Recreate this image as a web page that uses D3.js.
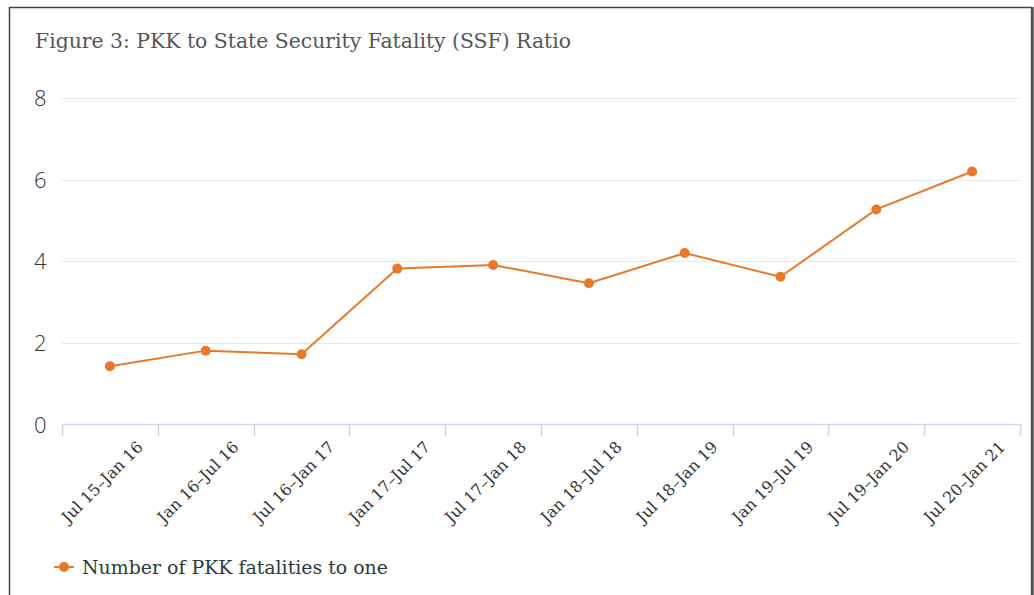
<!DOCTYPE html>
<html>
<head>
<meta charset="utf-8">
<script src="https://cdn.jsdelivr.net/npm/d3@7"></script>
<style>
  html, body { margin: 0; padding: 0; background: #fff; }
  svg { display: block; }
</style>
</head>
<body>
<div id="chart"></div>
<script>
// data
var periods = ["Jul 15\u2013Jan 16", "Jan 16\u2013Jul 16", "Jul 16\u2013Jan 17", "Jan 17\u2013Jul 17",
    "Jul 17\u2013Jan 18", "Jan 18\u2013Jul 18", "Jul 18\u2013Jan 19", "Jan 19\u2013Jul 19",
    "Jul 19\u2013Jan 20", "Jul 20\u2013Jan 21"];
var ratio = [1.43, 1.81, 1.72, 3.82, 3.91, 3.46, 4.20, 3.62, 5.27, 6.20];
var yTicks = [0, 2, 4, 6, 8];
var seriesName = "Number of PKK fatalities to one";
var titleText = "Figure 3: PKK to State Security Fatality (SSF) Ratio";

var width = 1034, height = 595;
var orange = "#e8792a";
var serif = "'DejaVu Serif', serif";

var svg = d3.select("#chart")
    .append("svg")
    .attr("width", width)
    .attr("height", height);

// frame around the figure
svg.append("rect")
    .attr("x", 9.5).attr("y", 7.5)
    .attr("width", 1022).attr("height", 700)
    .attr("fill", "none")
    .attr("stroke", "#444")
    .attr("stroke-width", 1.5);
svg.append("line")
    .attr("x1", 1032.5).attr("x2", 1032.5)
    .attr("y1", 7).attr("y2", height)
    .attr("stroke", "#555")
    .attr("stroke-width", 2.5);

svg.append("text")
    .attr("x", 35).attr("y", 48)
    .attr("fill", "#555")
    .style("font-family", serif)
    .style("font-size", "21px")
    .style("font-weight", 300)
    .attr("textLength", 536)
    .attr("lengthAdjust", "spacingAndGlyphs")
    .text(titleText);

var x = d3.scaleBand()
    .domain(periods)
    .range([62, 1020]);

var y = d3.scaleLinear()
    .domain([0, 8])
    .range([424.5, 98]);

// horizontal grid
svg.append("g")
    .selectAll("line")
    .data(yTicks.filter(d => d > 0))
    .join("line")
    .attr("x1", 62).attr("x2", 1020)
    .attr("y1", d => Math.round(y(d)) + 0.5)
    .attr("y2", d => Math.round(y(d)) + 0.5)
    .attr("stroke", "#e6e6e6")
    .attr("stroke-width", 1);

// y labels
svg.append("g")
    .selectAll("text")
    .data(yTicks)
    .join("text")
    .attr("x", 34)
    .attr("y", d => y(d) + 8)
    .attr("fill", "#333")
    .style("font-family", "'Open Sans', sans-serif")
    .style("font-weight", 300)
    .style("font-size", "22px")
    .text(d => d);

// x axis line and ticks
var xAxis = svg.append("g");
xAxis.append("line")
    .attr("x1", 62).attr("x2", 1020)
    .attr("y1", 424.5).attr("y2", 424.5)
    .attr("stroke", "#ccd6eb")
    .attr("stroke-width", 1.5);

var tickPos = periods.map(d => x(d)).concat([x.range()[1]]);
xAxis.selectAll(".tick")
    .data(tickPos)
    .join("line")
    .attr("class", "tick")
    .attr("x1", d => Math.round(d) + 0.5)
    .attr("x2", d => Math.round(d) + 0.5)
    .attr("y1", 424).attr("y2", 436)
    .attr("stroke", "#ccd6eb")
    .attr("stroke-width", 1.5);

xAxis.selectAll(".lbl")
    .data(periods)
    .join("text")
    .attr("class", "lbl")
    .attr("text-anchor", "end")
    .attr("transform", d => "translate(" + (x(d) + x.bandwidth() / 2 + 34) + ",448) rotate(-45)")
    .attr("fill", "#333")
    .style("font-family", serif)
    .style("font-size", "16px")
    .text(d => d);

// series line
var line = d3.line()
    .x((d, i) => x(periods[i]) + x.bandwidth() / 2)
    .y(d => y(d));

svg.append("path")
    .datum(ratio)
    .attr("d", line)
    .attr("fill", "none")
    .attr("stroke", orange)
    .attr("stroke-width", 2);

svg.append("g")
    .selectAll("circle")
    .data(ratio)
    .join("circle")
    .attr("cx", (d, i) => x(periods[i]) + x.bandwidth() / 2)
    .attr("cy", d => y(d))
    .attr("r", 5)
    .attr("fill", orange);

// legend
var legend = svg.append("g").attr("transform", "translate(54,567)");
legend.append("line")
    .attr("x1", 0).attr("x2", 20)
    .attr("stroke", orange)
    .attr("stroke-width", 2);
legend.append("circle")
    .attr("cx", 10).attr("r", 5)
    .attr("fill", orange);
legend.append("text")
    .attr("x", 28).attr("y", 7)
    .attr("fill", "#2b3a42")
    .style("font-family", serif)
    .style("font-size", "19px")
    .attr("textLength", 306)
    .attr("lengthAdjust", "spacingAndGlyphs")
    .text(seriesName);
</script>
</body>
</html>
